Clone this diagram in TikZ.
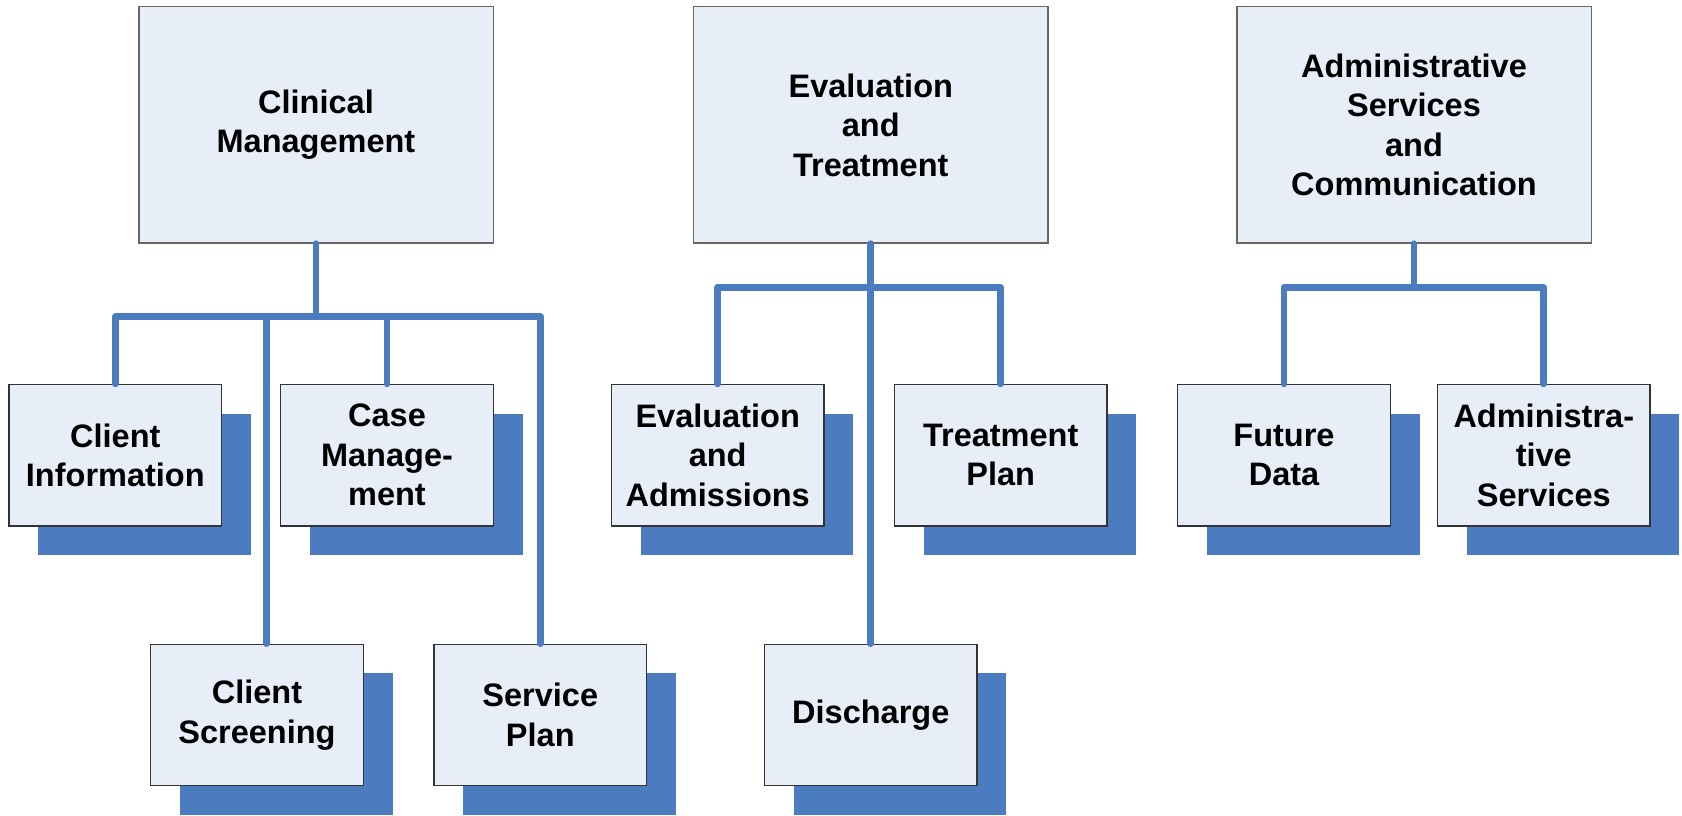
\documentclass[tikz,border=0pt]{standalone}
\usepackage{fontspec}
\setmainfont{Liberation Sans}
\usetikzlibrary{shadows}
\definecolor{boxfill}{RGB}{231,238,248}
\definecolor{linkblue}{RGB}{74,124,191}

\begin{document}
\begin{tikzpicture}[x=0.5pt, y=-0.5pt,
  every node/.style={font=\fontsize{16.25}{19.75}\selectfont\bfseries, align=center},
  headbox/.style={draw=black!60, line width=0.65pt, fill=boxfill, inner sep=0pt,
    minimum width=177.15pt, minimum height=118.15pt},
  subbox/.style={draw=black!80, line width=0.65pt, fill=boxfill, inner sep=0pt,
    minimum width=106.3pt, minimum height=70.7pt,
    drop shadow={shadow xshift=14.65pt, shadow yshift=-14.5pt, fill=linkblue, opacity=1}},
  link/.style={draw=linkblue, line width=3.35pt, line cap=round, line join=round}]
\useasboundingbox (0,0) rectangle (1682,815);
% heads
\node[headbox] (clin) at (316,124.9) {Clinical\\Management};
\node[headbox] (evtr) at (870.8,124.9) {Evaluation\\and\\Treatment};
\node[headbox] (admcom) at (1414,124.9) {Administrative\\Services\\and\\Communication};
% clinical management
\node[subbox] (info) at (115.3,455.2) {Client\\Information};
\node[subbox] (case) at (387,455.2) {Case\\Manage-\\ment};
\node[subbox] (screen) at (257,715) {Client\\Screening};
\node[subbox] (plan) at (540.3,715) {Service\\Plan};
% evaluation and treatment
\node[subbox] (evadm) at (717.7,455.2) {Evaluation\\and\\Admissions};
\node[subbox] (treat) at (1000.7,455.2) {Treatment\\Plan};
\node[subbox] (disch) at (870.8,715) {Discharge};
% administrative services
\node[subbox] (future) at (1284,455.2) {Future\\Data};
\node[subbox] (admsrv) at (1543.8,455.2) {Administra-\\tive\\Services};
% connectors
\coordinate (clinbar) at (316,316.7);
\coordinate (screentop) at ([xshift=4.85pt]screen.north);
\draw[link] (clin.south) -- (clinbar);
\draw[link] (info.north) |- (clinbar) -| (plan.north);
\draw[link] (case.north) -- (case.north |- clinbar);
\draw[link] (screentop) -- (screentop |- clinbar);
\coordinate (evtrbar) at (870.8,287.3);
\draw[link] (evtr.south) -- (disch.north);
\draw[link] (evadm.north) |- (evtrbar) -| (treat.north);
\coordinate (admbar) at (1414,287.5);
\draw[link] (admcom.south) -- (admbar);
\draw[link] (future.north) |- (admbar) -| (admsrv.north);
\end{tikzpicture}
\end{document}
